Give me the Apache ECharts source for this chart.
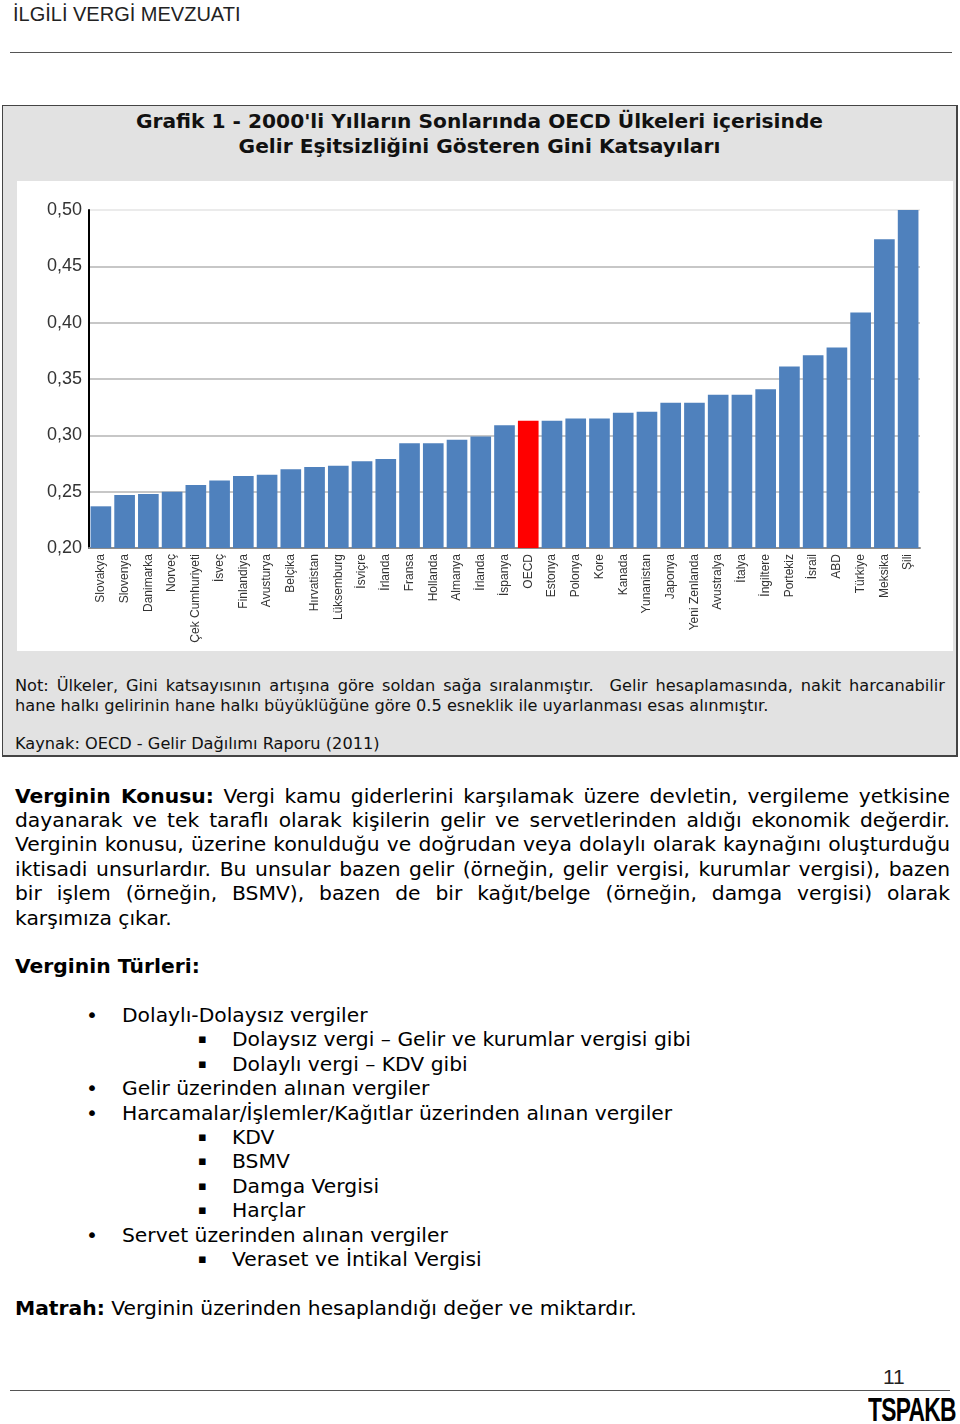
<!DOCTYPE html>
<html>
<head>
<meta charset="utf-8">
<script src="https://cdn.jsdelivr.net/npm/echarts@6/dist/echarts.min.js"></script>
<style>
  html, body { margin:0; padding:0; background:#fff; }
  body { width:960px; height:1424px; position:relative; overflow:hidden; font-family:"DejaVu Sans", Verdana, sans-serif; color:#000; }
  .abs { position:absolute; }
  #hdr { left:13px; top:2px; font-family:"Liberation Sans", Arial, sans-serif; font-size:20px; color:#222; line-height:24px; white-space:nowrap; }
  #hline { left:10px; top:52px; width:942px; height:0; border-top:1.5px solid #555; }
  #box { left:2px; top:105px; width:953px; height:649px; background:#e2e2e2; border:1.5px solid #444; border-right-width:2.5px; border-bottom-width:2.5px; }
  #title { left:3px; top:108.5px; width:953px; text-align:center; font-family:"DejaVu Sans",sans-serif; font-weight:bold; font-size:20.2px; line-height:25px; color:#111; white-space:nowrap; }
  #chart { left:17px; top:181px; width:936px; height:470px; background:#fff; }
  .nl { position:absolute; left:15px; font-size:16.2px; line-height:20px; color:#111; white-space:nowrap; }
  .pl { position:absolute; left:15px; width:935px; font-size:20.3px; line-height:24.4px; white-space:nowrap; }
  .just { text-align:justify; text-align-last:justify; white-space:normal; }
  .ln { position:absolute; font-size:20.3px; line-height:24.4px; white-space:nowrap; }
  #pg { left:883px; top:1365px; font-family:"Liberation Sans", Arial, sans-serif; font-size:21px; line-height:24px; color:#222; }
  #fline { left:10px; top:1390px; width:940px; height:0; border-top:1.5px solid #555; }
  #logo { left:868px; top:1393px; font-family:"Liberation Sans Narrow","Liberation Sans",Arial,sans-serif; font-weight:bold; font-size:33px; line-height:33px; letter-spacing:-1px; color:#000; transform:scaleX(0.69); transform-origin:left top; white-space:nowrap; }
</style>
</head>
<body>
<div id="hdr" class="abs">İLGİLİ VERGİ MEVZUATI</div>
<div id="hline" class="abs"></div>

<div id="box" class="abs"></div>
<div id="title" class="abs">Grafik 1 - 2000'li Yılların Sonlarında OECD Ülkeleri içerisinde<br>Gelir Eşitsizliğini Gösteren Gini Katsayıları</div>
<div id="chart" class="abs"></div>
<div class="nl just" style="top:676px;width:930px;">Not: Ülkeler, Gini katsayısının artışına göre soldan sağa sıralanmıştır.&nbsp; Gelir hesaplamasında, nakit harcanabilir</div>
<div class="nl" style="top:696px;">hane halkı gelirinin hane halkı büyüklüğüne göre 0.5 esneklik ile uyarlanması esas alınmıştır.</div>
<div class="nl" style="top:734px;">Kaynak: OECD - Gelir Dağılımı Raporu (2011)</div>

<div id="para"></div>

<div class="ln" style="left:15px;top:954px;"><b>Verginin Türleri:</b></div>

<div id="list"></div>

<div class="ln" style="left:15px;top:1296px;"><b>Matrah:</b> Verginin üzerinden hesaplandığı değer ve miktardır.</div>

<div id="pg" class="abs">11</div>
<div id="fline" class="abs"></div>
<div id="logo" class="abs">TSPAKB</div>

<script>
// ---- chart data ----
const countries = ["Slovakya","Slovenya","Danimarka","Norveç","Çek Cumhuriyeti","İsveç","Finlandiya","Avusturya","Belçika","Hırvatistan","Lüksemburg","İsviçre","İrlanda","Fransa","Hollanda","Almanya","İrlanda","İspanya","OECD","Estonya","Polonya","Kore","Kanada","Yunanistan","Japonya","Yeni Zenlanda","Avustralya","İtalya","İngiltere","Portekiz","İsrail","ABD","Türkiye","Meksika","Şili"];
const giniValues = [0.237,0.247,0.248,0.250,0.256,0.260,0.264,0.265,0.270,0.272,0.273,0.277,0.279,0.293,0.293,0.296,0.299,0.309,0.313,0.313,0.315,0.315,0.320,0.321,0.329,0.329,0.336,0.336,0.341,0.361,0.371,0.378,0.409,0.474,0.500];
const highlighted = ["OECD"];
const yTicks = [0.20,0.25,0.30,0.35,0.40,0.45,0.50];

// ---- page text ----
const paraLines = [
  "<b>Verginin Konusu:</b> Vergi kamu giderlerini karşılamak üzere devletin, vergileme yetkisine",
  "dayanarak ve tek taraflı olarak kişilerin gelir ve servetlerinden aldığı ekonomik değerdir.",
  "Verginin konusu, üzerine konulduğu ve doğrudan veya dolaylı olarak kaynağını oluşturduğu",
  "iktisadi unsurlardır. Bu unsular bazen gelir (örneğin, gelir vergisi, kurumlar vergisi), bazen",
  "bir işlem (örneğin, BSMV), bazen de bir kağıt/belge (örneğin, damga vergisi) olarak",
  "karşımıza çıkar."
];
const listItems = [
  [0,"Dolaylı-Dolaysız vergiler"],
  [1,"Dolaysız vergi – Gelir ve kurumlar vergisi gibi"],
  [1,"Dolaylı vergi – KDV gibi"],
  [0,"Gelir üzerinden alınan vergiler"],
  [0,"Harcamalar/İşlemler/Kağıtlar üzerinden alınan vergiler"],
  [1,"KDV"],
  [1,"BSMV"],
  [1,"Damga Vergisi"],
  [1,"Harçlar"],
  [0,"Servet üzerinden alınan vergiler"],
  [1,"Veraset ve İntikal Vergisi"]
];
(function(){
  const ph = document.getElementById('para');
  paraLines.forEach((s, i) => {
    const d = document.createElement('div');
    d.className = 'pl' + (i < paraLines.length - 1 ? ' just' : '');
    d.style.top = (783.5 + i * 24.4) + 'px';
    d.innerHTML = s;
    ph.appendChild(d);
  });
  const host = document.getElementById('list');
  listItems.forEach((it, i) => {
    const top = 1003 + i * 24.4;
    const b = document.createElement('div');
    b.className = 'ln';
    b.style.top = top + 'px';
    b.style.left = it[0] ? '198px' : '86px';
    b.textContent = it[0] ? '▪' : '•';
    if (it[0]) b.style.fontSize = '13px';
    host.appendChild(b);
    const t = document.createElement('div');
    t.className = 'ln';
    t.style.top = top + 'px';
    t.style.left = it[0] ? '232px' : '122px';
    t.textContent = it[1];
    host.appendChild(t);
  });
})();

const chart = echarts.init(document.getElementById('chart'), null, {renderer:'canvas'});
chart.setOption({
  animation: false,
  backgroundColor: '#fff',
  grid: { left: 72, right: 33, top: 29, bottom: 103, containLabel: false },
  xAxis: {
    type: 'category',
    data: countries,
    axisLine: { show: true, lineStyle: { color: '#8c8c8c', width: 2 } },
    axisTick: { show: false },
    axisLabel: { interval: 0, rotate: 90, margin: 6, fontFamily: '"Liberation Sans", Arial, sans-serif', fontSize: 12, color: '#333' }
  },
  yAxis: {
    type: 'value',
    min: yTicks[0], max: yTicks[yTicks.length-1], interval: 0.05,
    axisLine: { show: true, lineStyle: { color: '#000', width: 2 } },
    axisTick: { show: false },
    axisLabel: { margin: 7, fontFamily: '"Liberation Sans", Arial, sans-serif', fontSize: 18, color: '#333',
      formatter: v => v.toFixed(2).replace('.', ',') },
    splitLine: { show: true, lineStyle: { color: ['#b4b4b4','#b4b4b4','#b4b4b4','#b4b4b4','#b4b4b4','#b4b4b4','#e4e4e4'], width: 1.5 } }
  },
  series: [{
    type: 'bar',
    barCategoryGap: '13%',
    data: giniValues.map((v, i) => ({
      value: v,
      itemStyle: { color: highlighted.includes(countries[i]) ? '#ff0000' : '#4f81bd' }
    }))
  }]
});
</script>
</body>
</html>
